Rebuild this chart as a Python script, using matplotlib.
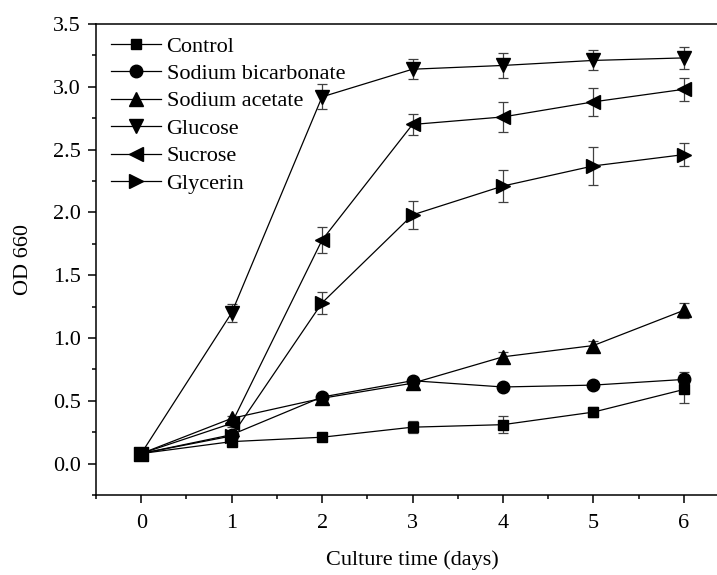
import matplotlib
matplotlib.use('Agg')
import matplotlib.pyplot as plt
import matplotlib.ticker as ticker
import numpy as np

plt.rcParams['font.family'] = ['Liberation Serif', 'DejaVu Serif']

days = [0, 1, 2, 3, 4, 5, 6]

control = [0.08, 0.175, 0.21, 0.29, 0.31, 0.41, 0.59]
control_err = [0.0, 0.03, 0.02, 0.05, 0.07, 0.04, 0.11]

bicarbonate = [0.08, 0.23, 0.53, 0.66, 0.61, 0.625, 0.67]
bicarbonate_err = [0.0, 0.02, 0.02, 0.02, 0.02, 0.02, 0.06]

acetate = [0.08, 0.36, 0.52, 0.64, 0.85, 0.94, 1.22]
acetate_err = [0.0, 0.02, 0.03, 0.05, 0.04, 0.04, 0.06]

glucose = [0.08, 1.20, 2.92, 3.14, 3.17, 3.21, 3.23]
glucose_err = [0.0, 0.07, 0.10, 0.08, 0.10, 0.08, 0.09]

sucrose = [0.08, 0.32, 1.78, 2.70, 2.76, 2.88, 2.98]
sucrose_err = [0.0, 0.03, 0.10, 0.08, 0.12, 0.11, 0.09]

glycerin = [0.08, 0.22, 1.28, 1.98, 2.21, 2.37, 2.46]
glycerin_err = [0.0, 0.03, 0.09, 0.11, 0.13, 0.15, 0.09]

labels = ['Control', 'Sodium bicarbonate', 'Sodium acetate', 'Glucose', 'Sucrose', 'Glycerin']
series = [control, bicarbonate, acetate, glucose, sucrose, glycerin]
errors = [control_err, bicarbonate_err, acetate_err, glucose_err, sucrose_err, glycerin_err]
markers = ['s', 'o', '^', 'v', '<', '>']
msizes = [7.5, 9, 9.5, 9.5, 9.5, 9.5]

fig = plt.figure(figsize=(7.17, 5.75), dpi=100)
ax = fig.add_axes([96/717, 1-495/575, 633/717, 471/575])

handles = []
for y, e, m, ms, lab in zip(series, errors, markers, msizes, labels):
	ax.errorbar(days, y, yerr=e, fmt='none', ecolor='0.25', elinewidth=0.9,
				capsize=3.5, capthick=0.9, zorder=2)
	h, = ax.plot(days, y, color='black', lw=0.9, marker=m, markersize=ms,
				 markerfacecolor='black', markeredgecolor='black', label=lab, zorder=3)
	handles.append(h)

ax.set_xlim(-0.5, 6.5)
ax.set_ylim(-0.25, 3.5)
ax.xaxis.set_major_locator(ticker.MultipleLocator(1))
ax.xaxis.set_minor_locator(ticker.MultipleLocator(0.5))
ax.yaxis.set_major_locator(ticker.MultipleLocator(0.5))
ax.yaxis.set_minor_locator(ticker.MultipleLocator(0.25))
ax.yaxis.set_major_formatter(ticker.FormatStrFormatter('%.1f'))

ax.tick_params(which='major', direction='out', length=6, width=1.1, labelsize=16, pad=5)
ax.tick_params(axis='x', which='major', pad=8)
ax.tick_params(which='minor', direction='out', length=3.2, width=1.1)
ax.tick_params(top=False, right=False)
for sp in ax.spines.values():
	sp.set_linewidth(1.1)

ax.set_xlabel('Culture time (days)', fontsize=16, labelpad=12)
ax.set_ylabel('OD 660', fontsize=16, labelpad=14)

ax.legend(handles=handles, loc='upper left', bbox_to_anchor=(15/633, 1-12/471),
		  frameon=False, fontsize=16, handlelength=2.25, handletextpad=0.25,
		  labelspacing=0.31, borderpad=0, borderaxespad=0)

plt.savefig('out.png', dpi=100)
